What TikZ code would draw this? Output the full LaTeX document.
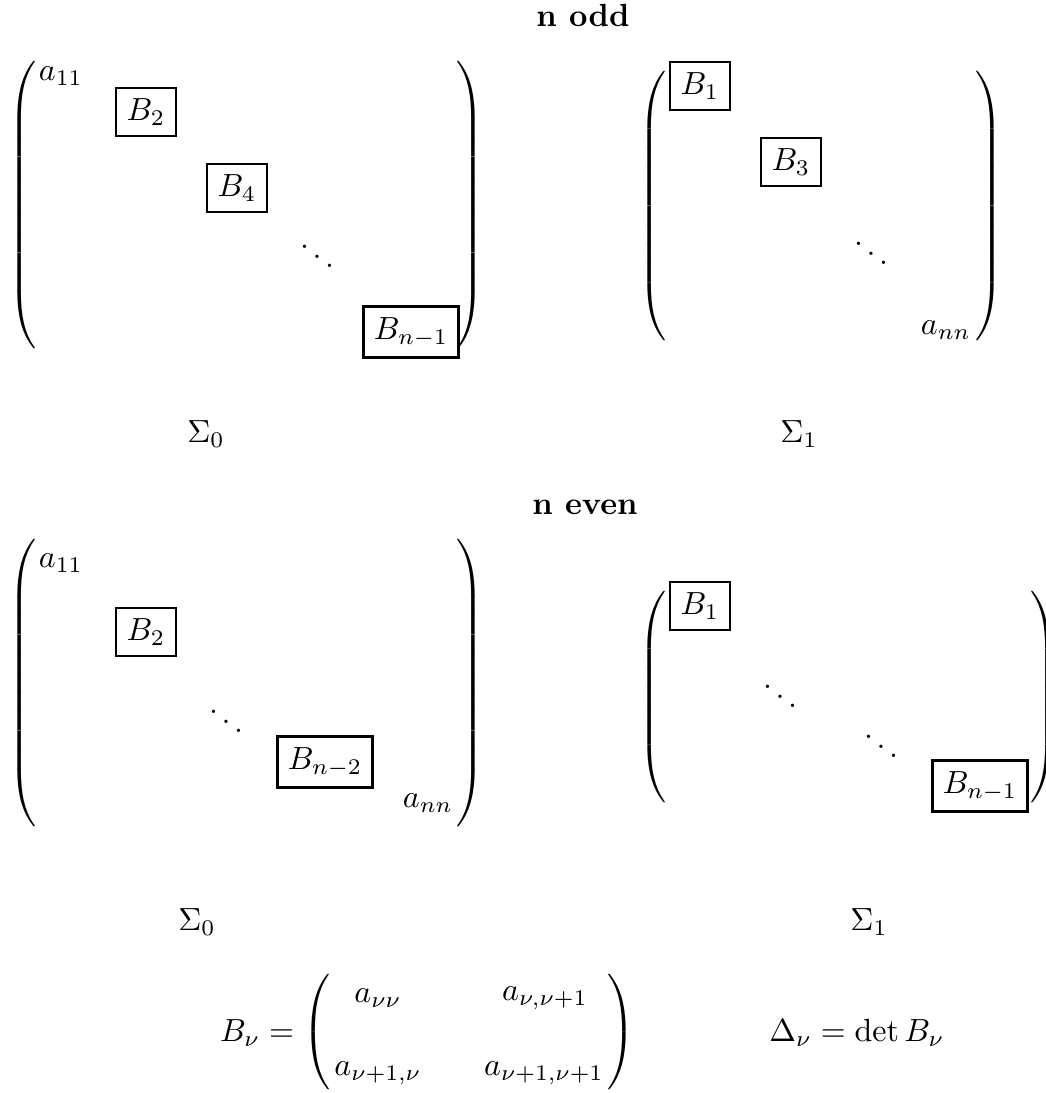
\documentclass[tikz,border=0pt]{standalone}
\usepackage{amsmath}
\usepackage{tikz}
\usetikzlibrary{positioning}

\newcommand{\lbig}[1]{$\left(\vcenter{\hbox{\rule{0pt}{#1}}}\right.$}
\newcommand{\rbig}[1]{$\left.\vcenter{\hbox{\rule{0pt}{#1}}}\right)$}

\begin{document}
\begin{tikzpicture}[x=0.3125pt, y=-0.3125pt,
    blk/.style={draw, line width=0.9pt},
    par/.style={inner sep=0pt}]
  \useasboundingbox (0,0) rectangle (1046,1093);

  % n odd
  \node (odd) at (583,15) {\textbf{n odd}};

  \node[par] (oddLl) at (24,205) {\lbig{93pt}};
  \node[par] (oddLr) at (469,205) {\rbig{93pt}};
  \node (oddLa) at (61,76) {$a_{11}$};
  \node[blk] (oddL2) at (146,112) {$B_2$};
  \node[blk] (oddL4) at (237,188) {$B_4$};
  \node (oddLd) at (317,247) {$\ddots$};
  \node[blk] (oddLn) at (411,332) {$B_{n-1}$};

  \node[par] (oddRl) at (654,206) {\lbig{88pt}};
  \node[par] (oddRr) at (988,206) {\rbig{88pt}};
  \node[blk] (oddR1) at (700,86) {$B_1$};
  \node[blk] (oddR3) at (791,162) {$B_3$};
  \node (oddRd) at (871,244) {$\ddots$};
  \node (oddRa) at (946,330) {$a_{nn}$};

  \node (oddS0) at (206,434) {$\Sigma_0$};
  \node (oddS1) at (799,434) {$\Sigma_1$};

  % n even
  \node (even) at (585,507) {\textbf{n even}};

  \node[par] (evnLl) at (24,683) {\lbig{91pt}};
  \node[par] (evnLr) at (469,683) {\rbig{91pt}};
  \node (evnLa) at (61,563) {$a_{11}$};
  \node[blk] (evnL2) at (146,632) {$B_2$};
  \node (evnLd) at (226,712) {$\ddots$};
  \node[blk] (evnLn) at (325,762) {$B_{n-2}$};
  \node (evnLa2) at (428,803) {$a_{nn}$};

  \node[par] (evnRl) at (654,697) {\lbig{70pt}};
  \node[par] (evnRr) at (1043,697) {\rbig{70pt}};
  \node[blk] (evnR1) at (700,606) {$B_1$};
  \node (evnRd1) at (780,687) {$\ddots$};
  \node (evnRd2) at (881,737) {$\ddots$};
  \node[blk] (evnRn) at (980,786) {$B_{n-1}$};

  \node (evnS0) at (197,922) {$\Sigma_0$};
  \node (evnS1) at (869,922) {$\Sigma_1$};

  % B_nu and Delta_nu
  \node (Beq) at (257,1033) {$B_\nu =$};
  \node[par] (Bl) at (318,1032) {\lbig{39pt}};
  \node[par] (Br) at (620,1032) {\rbig{39pt}};
  \node (b11) at (378,998) {$a_{\nu\nu}$};
  \node (b12) at (545,998) {$a_{\nu,\nu+1}$};
  \node (b21) at (378,1073) {$a_{\nu+1,\nu}$};
  \node (b22) at (544,1073) {$a_{\nu+1,\nu+1}$};
  \node (Del) at (857,1033) {$\Delta_\nu = \det B_\nu$};
\end{tikzpicture}
\end{document}
